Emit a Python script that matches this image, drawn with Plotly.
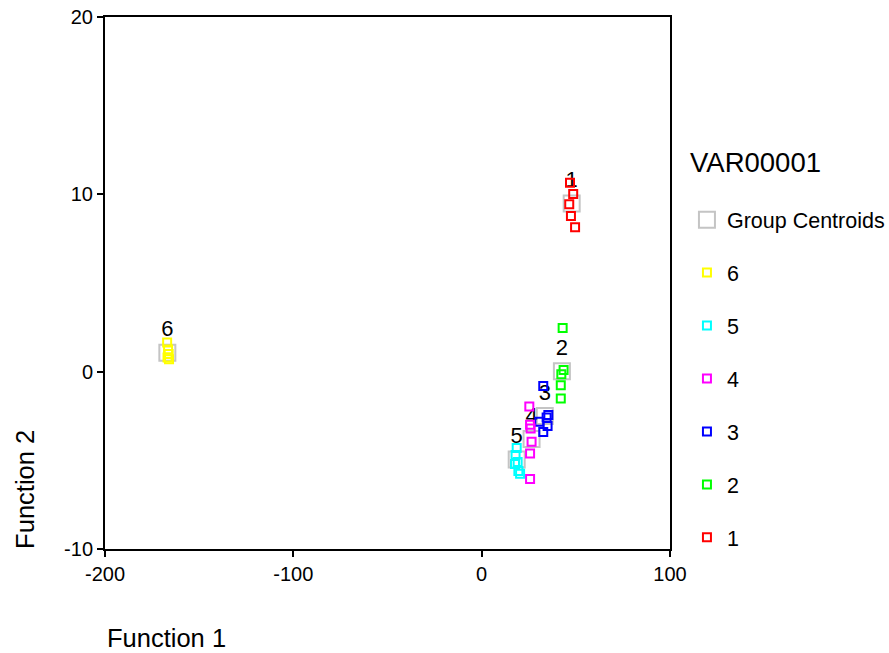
import plotly.graph_objects as go

# Discriminant scores per group (Function 1, Function 2)
g1_x = [46.9, 48.6, 46.5, 47.4, 49.6]
g1_y = [10.66, 10.02, 9.44, 8.78, 8.14]
g2_x = [43.0, 43.5, 42.3, 42.0, 42.0]
g2_y = [2.46, 0.10, -0.15, -0.77, -1.52]
g3_x = [32.7, 35.4, 34.5, 30.6, 35.0, 32.7]
g3_y = [-0.81, -2.44, -2.58, -2.82, -3.06, -3.40]
g4_x = [25.3, 25.7, 26.0, 26.5, 25.7, 25.7]
g4_y = [-1.97, -3.00, -3.20, -3.95, -4.61, -6.05]
g5_x = [18.6, 18.0, 19.1, 17.7, 19.5, 20.4]
g5_y = [-4.30, -4.70, -5.10, -5.20, -5.60, -5.75]
g6_x = [-167.0, -166.5, -166.2, -166.8, -166.0]
g6_y = [1.65, 1.25, 1.00, 0.80, 0.70]

centroid_x = [47.8, 42.6, 33.5, 26.5, 18.6, -166.9]
centroid_y = [9.49, 0.02, -2.50, -3.80, -4.95, 1.07]
centroid_labels = ["1", "2", "3", "4", "5", "6"]

x_ticks = [-200, -100, 0, 100]
x_ticklabels = ["-200", "-100", "0", "100"]
y_ticks = [-10, 0, 10, 20]
y_ticklabels = ["-10", "0", "10", "20"]

groups = [
    ("1", g1_x, g1_y, "#ff0000"),
    ("2", g2_x, g2_y, "#00ff00"),
    ("3", g3_x, g3_y, "#0000ff"),
    ("4", g4_x, g4_y, "#ff00ff"),
    ("5", g5_x, g5_y, "#00ffff"),
    ("6", g6_x, g6_y, "#ffff00"),
]

FONT = "Liberation Sans, Arial, sans-serif"

fig = go.Figure()

fig.add_trace(go.Scatter(
    x=centroid_x, y=centroid_y, mode="markers+text",
    text=centroid_labels, textposition="top center",
    textfont=dict(size=22, color="black", family=FONT),
    marker=dict(symbol="square-open", size=16, color="#c4c4c4", line=dict(width=2)),
    name="Group Centroids", legendrank=1, legendgroup="c",
))

for i, (name, xs, ys, col) in enumerate(groups):
    fig.add_trace(go.Scatter(
        x=xs, y=ys, mode="markers", name=name,
        marker=dict(symbol="square-open", size=8, color=col, line=dict(width=2)),
        legendrank=8 - int(name), legendgroup="g" + name,
    ))

axis_common = dict(
    showgrid=False, zeroline=False, showline=True, mirror=True,
    linecolor="black", linewidth=2, ticks="outside", ticklen=6,
    tickwidth=2, tickcolor="black", automargin=False,
    tickfont=dict(size=20, color="black", family=FONT),
)

fig.update_layout(
    width=889, height=653,
    margin=dict(l=105, r=219, t=17, b=104, autoexpand=False),
    paper_bgcolor="white", plot_bgcolor="white",
    font=dict(family=FONT, color="black"),
    xaxis=dict(range=[-200, 100], tickvals=x_ticks, ticktext=x_ticklabels, **axis_common),
    yaxis=dict(range=[-10, 20], tickvals=y_ticks, ticktext=y_ticklabels, **axis_common),
    legend=dict(
        font=dict(size=21.5, family=FONT, color="black"),
        x=1.03, xanchor="left", y=0.6576, yanchor="top",
        tracegroupgap=22, bgcolor="rgba(0,0,0,0)",
    ),
    annotations=[
        dict(text="VAR00001", xref="paper", yref="paper", x=1.0319, y=0.7256,
             xanchor="left", yanchor="middle", showarrow=False,
             font=dict(size=27.5, family=FONT, color="black")),
        dict(text="Function 1", xref="paper", yref="paper", x=0, y=-0.168,
             xanchor="left", yanchor="middle", showarrow=False,
             font=dict(size=25.5, family=FONT, color="black")),
        dict(text="Function 2", xref="paper", yref="paper", x=-0.1416, y=0.113,
             xanchor="center", yanchor="middle", textangle=-90, showarrow=False,
             font=dict(size=25.5, family=FONT, color="black")),
    ],
)

fig.write_html("out.html")
